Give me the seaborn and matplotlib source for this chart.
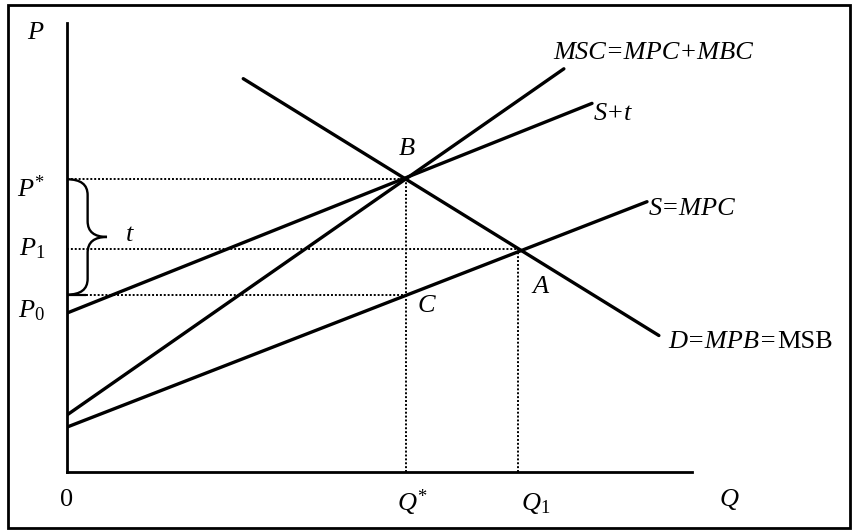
import matplotlib
matplotlib.use("Agg")
import matplotlib.pyplot as plt
from matplotlib.path import Path
from matplotlib.patches import PathPatch, Rectangle
import pandas as pd
import seaborn as sns

# curves: straight lines given by their two end points (Q, P)
curve_names = ["MSC", "S+t", "S", "D"]
q_start = [0.0, 0.0, 0.0, 2.82]
q_end = [7.95, 8.40, 9.28, 9.47]
p_start = [1.27, 3.54, 1.00, 8.76]
p_end = [8.98, 8.21, 6.02, 3.04]

# equilibrium points
q_star, p_star = 5.43, 6.52
q_one, p_one = 7.22, 4.97
p_c = 3.95

sns.set_theme(style="white")
plt.rcParams["font.family"] = ["Liberation Serif", "DejaVu Serif"]
plt.rcParams["mathtext.fontset"] = "custom"
plt.rcParams["mathtext.rm"] = "Liberation Serif"
plt.rcParams["mathtext.it"] = "Liberation Serif:italic"

rows = []
for name, q0, q1, p0, p1 in zip(curve_names, q_start, q_end, p_start, p_end):
    rows.append({"curve": name, "Q": q0, "P": p0})
    rows.append({"curve": name, "Q": q1, "P": p1})
df = pd.DataFrame(rows)

fig = plt.figure(figsize=(8.53, 5.32), dpi=100)
ax = fig.add_axes([67 / 853, 60 / 532, 625 / 853, 449 / 532])

sns.lineplot(data=df, x="Q", y="P", units="curve", estimator=None,
             color="black", linewidth=2.4, sort=False, ax=ax)

# dotted guides
dot = dict(color="black", linewidth=1.4, linestyle=(0, (1, 1)))
ax.plot([0, q_star], [p_star, p_star], **dot)
ax.plot([0, q_one], [p_one, p_one], **dot)
ax.plot([0.3, q_star], [p_c, p_c], **dot)
ax.plot([0, 0.3], [p_c, p_c], color="black", linewidth=1.6)
ax.plot([q_star, q_star], [0, p_star], **dot)
ax.plot([q_one, q_one], [0, p_one], **dot)

# curly brace for the tax t
w1, tip, r = 0.33, 0.64, 0.35
mid = (p_star + p_c) / 2
verts = [(0, p_star), (w1, p_star), (w1, p_star - r),
         (w1, mid + r),
         (w1, mid), (tip, mid),
         (w1, mid), (w1, mid - r),
         (w1, p_c + r),
         (w1, p_c), (0, p_c)]
codes = [Path.MOVETO, Path.CURVE3, Path.CURVE3,
         Path.LINETO,
         Path.CURVE3, Path.CURVE3,
         Path.CURVE3, Path.CURVE3,
         Path.LINETO,
         Path.CURVE3, Path.CURVE3]
ax.add_patch(PathPatch(Path(verts, codes), facecolor="none",
                       edgecolor="black", linewidth=1.7))

ax.set_xlim(0, 10)
ax.set_ylim(0, 10)
ax.set_xticks([])
ax.set_yticks([])
ax.set_xlabel("")
ax.set_ylabel("")
for side in ["top", "right"]:
    ax.spines[side].set_visible(False)
for side in ["left", "bottom"]:
    ax.spines[side].set_color("black")
    ax.spines[side].set_linewidth(2)

fs = 19
lab = dict(fontsize=fs, color="black", clip_on=False)
itl = dict(lab, style="italic")
ax.text(-0.51, 9.78, "P", ha="center", va="center", **itl)
ax.text(-0.35, p_star - 0.2, "$P^{*}$", ha="right", va="center", **lab)
ax.text(-0.35, p_one, r"$P_{\mathrm{1}}$", ha="right", va="center", **lab)
ax.text(-0.35, p_start[1] + 0.05, r"$P_{\mathrm{0}}$", ha="right", va="center", **lab)
ax.text(1.0, mid + 0.05, "t", ha="center", va="center", **itl)
ax.text(0.0, -0.62, "0", ha="center", va="center", **lab)
ax.text(q_star + 0.1, -0.68, "$Q^{*}$", ha="center", va="center", **lab)
ax.text(q_one + 0.28, -0.70, r"$Q_{\mathrm{1}}$", ha="center", va="center", **lab)
ax.text(10.6, -0.62, "Q", ha="center", va="center", **itl)
ax.text(q_star, p_star + 0.68, "B", ha="center", va="center", **itl)
ax.text(q_one + 0.35, p_one - 0.85, "A", ha="center", va="center", **itl)
ax.text(q_star + 0.32, p_c - 0.25, "C", ha="center", va="center", **itl)
ax.text(7.78, 9.33, "MSC=MPC+MBC", ha="left", va="center", **itl)
ax.text(q_end[1] + 0.02, 7.98, "S+t", ha="left", va="center", **itl)
ax.text(q_end[2] + 0.03, 5.86, "S=MPC", ha="left", va="center", **itl)
d_lab = ax.text(q_end[3] + 0.15, 2.89, "D=MPB=", ha="left", va="center", **itl)
ax.annotate("MSB", xy=(1, 0), xycoords=d_lab, ha="left", va="bottom",
            fontsize=fs, color="black")

# outer frame
fig.patches.append(Rectangle((8 / 853, 4 / 532), 842 / 853, 523 / 532,
                             transform=fig.transFigure, fill=False,
                             edgecolor="black", linewidth=2))

fig.savefig("out.png", dpi=100)
